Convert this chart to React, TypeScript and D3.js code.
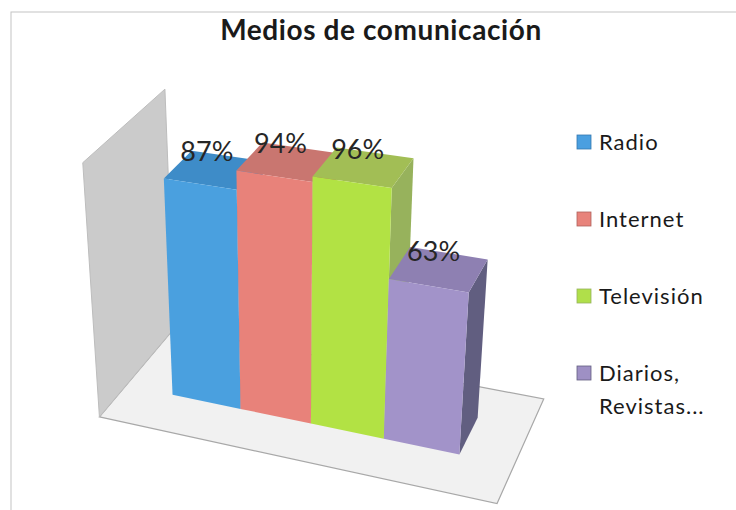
import React from "react";
import * as d3 from "d3";

// ---------- data ----------
const title = "Medios de comunicación";
const categories = ["Radio", "Internet", "Televisión", "Diarios, Revistas..."];
const values = [0.87, 0.94, 0.96, 0.63];
const legendLines = [["Radio"], ["Internet"], ["Televisión"], ["Diarios,", "Revistas..."]];

// ---------- styles ----------
const frontColors = ["#4AA0DF", "#E8827A", "#B2E244", "#A293C9"];
const topColors = ["#3E8CC8", "#C97670", "#A2BE55", "#8E80B2"];
const sideColors = ["#3478B0", "#B0625C", "#97B25C", "#615E80"];
const swatchColors = ["#4A9FE0", "#E8837B", "#B0DF4A", "#9E90C4"];

// ---------- layout (world box, in bar-width units) ----------
const WIDTH = 736;
const HEIGHT = 510;
const floorW = 5.4;
const floorD = 2.5;
const wallH = 3.4;
const barZ0 = 0.85;
const barZ1 = 1.75;

const xScale = d3
  .scaleBand<string>()
  .domain(categories)
  .range([0, floorW])
  .paddingInner(0)
  .paddingOuter(0.7);
const yScale = d3.scaleLinear().domain([0, 1]).range([0, wallH]);
const fmt = d3.format(".0%");

// ---------- camera calibration ----------
// reference features of the 3-D box (world) and where they appear on the page
const bx0 = (i: number) => xScale(categories[i])!;
const bx1 = (i: number) => xScale(categories[i])! + xScale.bandwidth();
const calib: { w: number[]; p: number[] }[] = [
  { w: [0, 0, 0], p: [100, 414] },
  { w: [0, wallH, 0], p: [82, 159] },
  { w: [0, wallH, floorD], p: [166, 87] },
  { w: [floorW, 0, floorD], p: [543, 398] },
  { w: [floorW, 0, 0], p: [501, 502] },
  { w: [bx0(0), 0, barZ0], p: [173, 397] },
  { w: [bx0(0), yScale(values[0]), barZ0], p: [163, 182] },
  { w: [bx0(1), yScale(values[1]), barZ0], p: [236, 172] },
  { w: [bx0(2), yScale(values[2]), barZ0], p: [312, 180] },
  { w: [bx1(2), yScale(values[2]), barZ0], p: [391, 193] },
  { w: [bx1(2), yScale(values[2]), barZ1], p: [417, 158] },
  { w: [bx0(3), yScale(values[3]), barZ0], p: [388, 277] },
  { w: [bx1(3), yScale(values[3]), barZ0], p: [468, 286] },
  { w: [bx1(3), yScale(values[3]), barZ1], p: [487, 258] },
  { w: [bx0(3), 0, barZ0], p: [383, 442] },
  { w: [bx1(3), 0, barZ0], p: [457, 457] },
];

function solveCamera(pts: { w: number[]; p: number[] }[]) {
  const A: number[][] = [];
  const b: number[] = [];
  pts.forEach(({ w: [X, Y, Z], p: [u, v] }) => {
    A.push([X, Y, Z, 1, 0, 0, 0, 0, -u * X, -u * Y, -u * Z]);
    b.push(u);
    A.push([0, 0, 0, 0, X, Y, Z, 1, -v * X, -v * Y, -v * Z]);
    b.push(v);
  });
  const n = 11;
  const M: number[][] = [];
  for (let r = 0; r < n; r++) {
    const row = new Array(n + 1).fill(0);
    for (let c = 0; c < n; c++) {
      let s = 0;
      for (let k = 0; k < A.length; k++) s += A[k][r] * A[k][c];
      row[c] = s;
    }
    let s = 0;
    for (let k = 0; k < A.length; k++) s += A[k][r] * b[k];
    row[n] = s;
    M.push(row);
  }
  for (let c = 0; c < n; c++) {
    let p = c;
    for (let r = c + 1; r < n; r++) if (Math.abs(M[r][c]) > Math.abs(M[p][c])) p = r;
    [M[c], M[p]] = [M[p], M[c]];
    for (let r = 0; r < n; r++) {
      if (r === c) continue;
      const f = M[r][c] / M[c][c];
      for (let k = c; k <= n; k++) M[r][k] -= f * M[c][k];
    }
  }
  const p = M.map((row, i) => row[n] / row[i]);
  return (X: number, Y: number, Z: number): [number, number] => {
    const w = p[8] * X + p[9] * Y + p[10] * Z + 1;
    return [
      (p[0] * X + p[1] * Y + p[2] * Z + p[3]) / w,
      (p[4] * X + p[5] * Y + p[6] * Z + p[7]) / w,
    ];
  };
}

const project = solveCamera(calib);

const poly = (pts: number[][]) => {
  const line = d3.line();
  return line(pts.map((q) => project(q[0], q[1], q[2])) as [number, number][]) + "Z";
};

export default function App() {
  const fontFamily = "Lato, 'Open Sans', sans-serif";
  const floorPts = [
    [0, 0, 0],
    [floorW, 0, 0],
    [floorW, 0, floorD],
    [0, 0, floorD],
  ];
  const wallPts = [
    [0, 0, 0],
    [0, wallH, 0],
    [0, wallH, floorD],
    [0, 0, floorD],
  ];
  return (
    <svg
      width={WIDTH}
      height={HEIGHT}
      style={{ position: "absolute", left: 0, top: 0, background: "#fff" }}
    >
      <rect x={0} y={0} width={WIDTH} height={HEIGHT} fill="#fff" />
      <rect x={11} y={12} width={WIDTH} height={HEIGHT} fill="none" stroke="#c4c4c4" strokeWidth={1} />
      <text
        x={381}
        y={40}
        textAnchor="middle"
        fontFamily={fontFamily}
        fontWeight={700}
        fontSize={28}
        letterSpacing={0.6}
        fill="#1a1a1a"
      >
        {title}
      </text>

      {/* floor and side wall */}
      <path d={poly(floorPts)} fill="#f1f1f1" stroke="#a8a8a8" strokeWidth={1.2} />
      <path d={poly(wallPts)} fill="#cbcbcb" stroke="#bdbdbd" strokeWidth={1} />

      {/* bars */}
      {categories.map((c, i) => {
        const x0 = xScale(c)!;
        const x1 = x0 + xScale.bandwidth();
        const h = yScale(values[i]);
        const front = [
          [x0, 0, barZ0],
          [x1, 0, barZ0],
          [x1, h, barZ0],
          [x0, h, barZ0],
        ];
        const top = [
          [x0, h, barZ0],
          [x1, h, barZ0],
          [x1, h, barZ1],
          [x0, h, barZ1],
        ];
        const side = [
          [x1, 0, barZ0],
          [x1, 0, barZ1],
          [x1, h, barZ1],
          [x1, h, barZ0],
        ];
        return (
          <g key={c}>
            <path d={poly(side)} fill={sideColors[i]} />
            <path d={poly(top)} fill={topColors[i]} />
            <path d={poly(front)} fill={frontColors[i]} />
          </g>
        );
      })}

      {/* data labels */}
      {categories.map((c, i) => {
        const xc = xScale(c)! + xScale.bandwidth() / 2;
        const [lx, ly] = project(
          xc,
          yScale(values[i]),
          barZ0 + 0.25 * (barZ1 - barZ0)
        );
        return (
          <text
            key={c + "-lbl"}
            x={lx}
            y={ly - 16}
            textAnchor="middle"
            fontFamily={fontFamily}
            fontSize={27}
            fill="#262626"
          >
            {fmt(values[i])}
          </text>
        );
      })}

      {/* legend */}
      {categories.map((c, i) => {
        const by = 150 + i * 77;
        return (
          <g key={c + "-leg"}>
            <rect
              x={577}
              y={by - 15}
              width={14}
              height={14}
              fill={swatchColors[i]}
              stroke={sideColors[i]}
              strokeWidth={0.8}
            />
            {legendLines[i].map((t, j) => (
              <text
                key={t}
                x={599}
                y={by + j * 33}
                fontFamily={fontFamily}
                fontSize={22}
                letterSpacing={1}
                fill="#1a1a1a"
              >
                {t}
              </text>
            ))}
          </g>
        );
      })}
    </svg>
  );
}
